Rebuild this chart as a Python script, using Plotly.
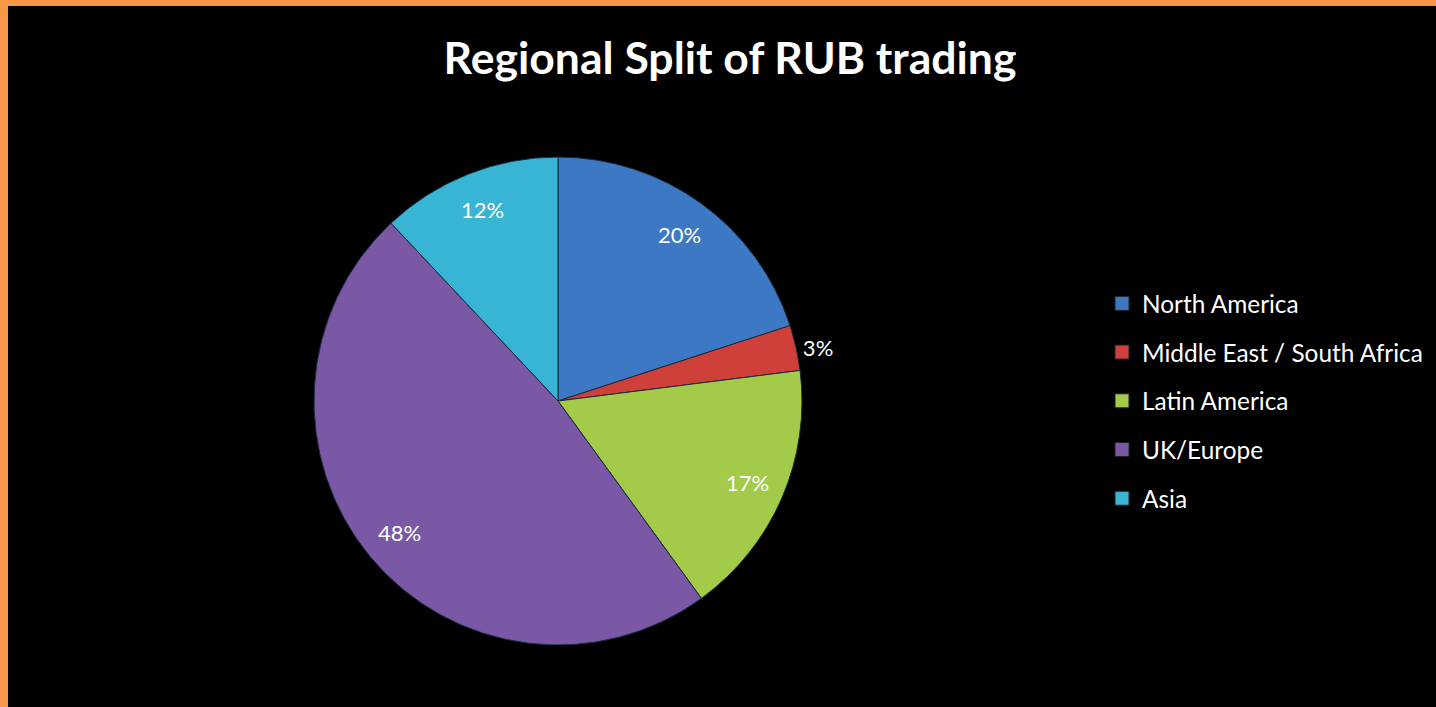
import math
import plotly.graph_objects as go

labels = ["North America", "Middle East / South Africa", "Latin America", "UK/Europe", "Asia"]
values = [20, 3, 17, 48, 12]
colors = ["#3C78C3", "#CF403B", "#A4CA4A", "#7A58A6", "#38B4D4"]
inside = [True, False, True, True, True]

W, H = 1436, 707
cx, cy, R = 558, 401, 244
LABEL_R = 0.845

fig = go.Figure()
fig.add_trace(go.Pie(
    labels=labels, values=values, sort=False, direction="clockwise", rotation=0,
    marker=dict(colors=colors, line=dict(color="#1a2a3a", width=1)),
    texttemplate=["" if ins else "%{percent:.0%}" for ins in inside],
    textposition=["none" if ins else "outside" for ins in inside],
    textfont=dict(family="Lato", size=22, color="white"),
    showlegend=False, hoverinfo="label+percent",
    domain=dict(x=[(cx - R) / W, (cx + R) / W], y=[(H - cy - R) / H, (H - cy + R) / H]),
))

# inside percentage labels placed at the slice mid-angle, near the rim (Excel style)
total = sum(values)
cum = 0
annotations = []
for v, ins in zip(values, inside):
    mid = (cum + v / 2) / total * 2 * math.pi
    cum += v
    if not ins:
        continue
    r = LABEL_R * R
    px = cx + r * math.sin(mid)
    py = cy - r * math.cos(mid)
    annotations.append(dict(
        x=px / W, y=(H - py) / H, xref="paper", yref="paper",
        text=f"{round(v / total * 100)}%", showarrow=False,
        xanchor="center", yanchor="middle",
        font=dict(family="Lato", size=22, color="white"),
    ))

for lab, col in zip(labels, colors):
    fig.add_trace(go.Scatter(
        x=[None], y=[None], mode="markers", name=lab, legendgroup=lab,
        marker=dict(symbol="square", size=14, color=col, line=dict(color="#222", width=1)),
        showlegend=True,
    ))

fig.update_layout(
    width=W, height=H,
    margin=dict(l=0, r=0, t=0, b=0),
    paper_bgcolor="black", plot_bgcolor="black",
    xaxis=dict(visible=False), yaxis=dict(visible=False),
    title=dict(text="<b>Regional Split of RUB trading</b>", x=730 / W, xanchor="center",
               y=1 - 58 / H, yanchor="middle",
               font=dict(family="Lato", size=44.5, color="white")),
    legend=dict(x=1102 / W, xanchor="left", y=1 - 281 / H, yanchor="top",
                font=dict(family="Lato", size=24.4, color="white"),
                tracegroupgap=14, bgcolor="rgba(0,0,0,0)", itemclick=False),
    annotations=annotations,
    shapes=[
        dict(type="rect", xref="paper", yref="paper", x0=0, x1=8 / W, y0=0, y1=1,
             fillcolor="#F79646", line=dict(width=0), layer="above"),
        dict(type="rect", xref="paper", yref="paper", x0=0, x1=1, y0=1 - 6 / H, y1=1,
             fillcolor="#F79646", line=dict(width=0), layer="above"),
    ],
)
fig.write_html("out.html")
